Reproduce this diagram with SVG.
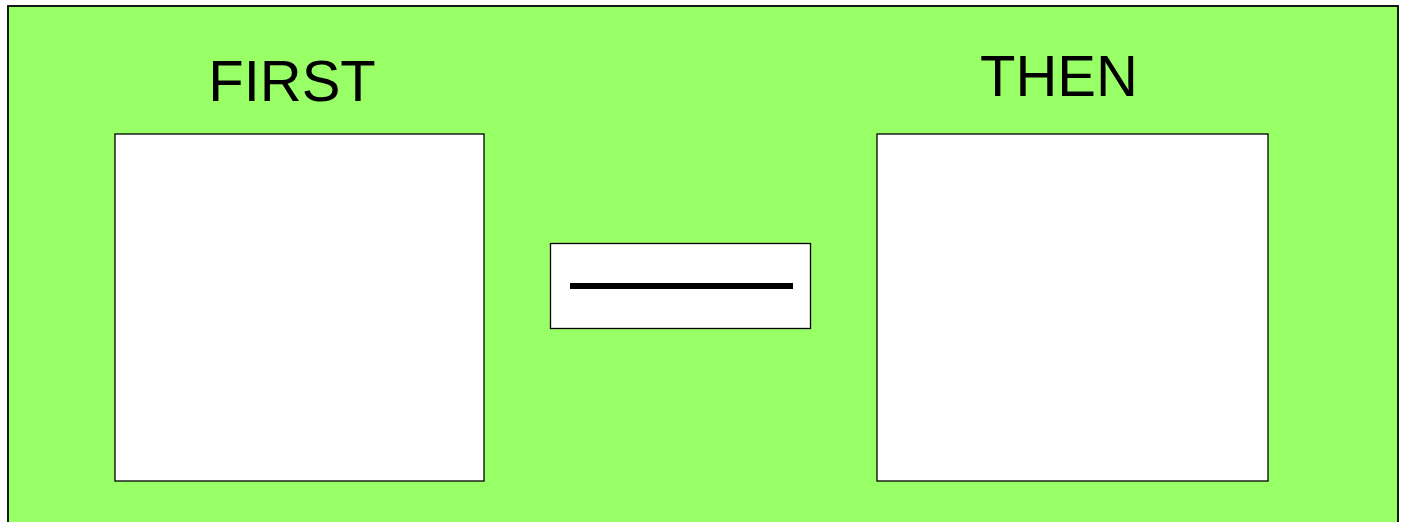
<svg xmlns="http://www.w3.org/2000/svg" width="1405" height="522" viewBox="0 0 1405 522">
<style>
.box{fill:#ffffff;stroke:#000;stroke-width:1.3}
.lbl{font-family:"Liberation Sans",Arial,sans-serif;font-size:58px;fill:#000}
</style>
<rect width="1405" height="522" fill="#ffffff"/>
<g id="background">
<rect x="8" y="6" width="1390" height="530" fill="#99ff66" stroke="#000" stroke-width="1.8"/>
</g>
<g id="first">
<text class="lbl" x="292" y="101" text-anchor="middle">FIRST</text>
<rect class="box" x="115" y="134" width="369" height="347"/>
</g>
<g id="then">
<text class="lbl" x="1059" y="96" text-anchor="middle">THEN</text>
<rect class="box" x="877" y="134" width="391" height="347"/>
</g>
<g id="blank">
<rect class="box" x="550.5" y="243.5" width="260" height="85"/>
<line x1="570" y1="286" x2="793" y2="286" stroke="#000" stroke-width="6"/>
</g>
</svg>
